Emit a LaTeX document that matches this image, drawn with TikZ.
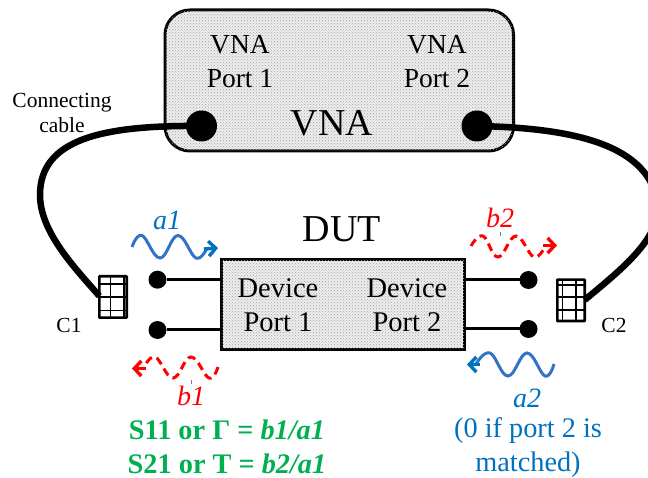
\documentclass[tikz,border=0pt]{standalone}
\usepackage{fontspec}
\setmainfont{Liberation Serif}
\usetikzlibrary{patterns,arrows.meta}
\definecolor{bluewave}{RGB}{50,115,200}
\definecolor{bluetext}{RGB}{0,112,192}
\definecolor{greentext}{RGB}{0,176,80}
\newcommand{\fs}[2]{\fontsize{#1}{#2}\selectfont}
\tikzset{
  x=1pt,y=-1pt,
  panel/.style={draw=black,line width=3pt,fill=gray!14,postaction={pattern=crosshatch dots,pattern color=gray!70}},
  portdot/.style={circle,fill=black,inner sep=0pt,outer sep=0pt,minimum size=#1},
  lead/.style={line width=3pt},
  cable/.style={line width=6.5pt},
  plug/.style={draw=black,line width=2.6pt,fill=white,minimum width=27.4pt,minimum height=41.4pt,inner sep=0pt,outer sep=0pt,rectangle,rounded corners=0.5pt},
  gridline/.style={line width=1.2pt},
  lbl/.style={inner sep=0pt,align=center},
  wave/.style={line width=3pt,smooth,tension=0.7},
  waveblue/.style={wave,draw=bluewave},
  wavered/.style={wave,draw=red,dash pattern=on 8pt off 5pt},
  tipblue/.style={draw=bluetext,line width=3.4pt,-{Straight Barb[length=7pt,width=15pt,line width=3.4pt]}},
  tipred/.style={draw=red,line width=3.4pt,-{Straight Barb[length=7pt,width=15pt,line width=3.4pt]}}
}
\begin{document}
\begin{tikzpicture}
\useasboundingbox (0,0) rectangle (648,478);
\clip (0,0) rectangle (648,478);
% boxes
\draw[panel,rounded corners=25pt] (165,10) rectangle (513.5,151);
\node[panel,rectangle,minimum width=243pt,minimum height=90pt,inner sep=0pt,outer sep=0pt,anchor=north west] (dut) at (221.5,259.5) {};
% VNA ports
\node[portdot=31pt] (vp1) at (201.5,126) {};
\node[portdot=31pt] (vp2) at (477,126) {};
% plugs
\node[plug] (c1) at (113,297) {};
\node[plug] (c2) at (571,300.3) {};
\draw[gridline] (110.7,276) -- (110.7,318) (124,276) -- (124,318)
  (99,284) -- (127,284) (99,297) -- (127,297) (99,310.7) -- (127,310.7);
\draw[gridline] (562.7,279) -- (562.7,321) (576,279) -- (576,321)
  (557,285) -- (585,285) (557,297) -- (585,297) (557,310) -- (585,310);
% cables
\draw[cable] (vp1.center) .. controls (100,125) and (40,140) .. (40,195) .. controls (40,232) and (75,268) .. (c1.west|-0,296);
\draw[cable] (vp2.center) .. controls (575,128) and (650,145) .. (658,205) .. controls (660,240) and (618,272) .. (c2.east|-0,300);
% terminals
\node[portdot=18pt] (t1) at (157.5,279.7) {};
\node[portdot=18pt] (t2) at (157.5,330) {};
\node[portdot=18pt] (t3) at (528.5,280) {};
\node[portdot=18pt] (t4) at (528.5,329) {};
\draw[lead] (t1) -- (t1-|dut.west);
\draw[lead] (t2) -- (t2-|dut.west);
\draw[lead] (t3) -- (t3-|dut.east);
\draw[lead] (t4) -- (t4-|dut.east);
% waves
\draw[waveblue] plot coordinates {(132,247) (142,235.5) (160,258) (178,235.5) (196,258) (207,248)};
\draw[tipblue] (204,249) -- (218,248);
\draw[waveblue] plot coordinates {(554,364) (545,376) (527,353) (508,376) (490,353) (476,364)};
\draw[tipblue] (480,364.5) -- (467,364.5);
\draw[wavered] plot coordinates {(218,367) (209,378) (191,357) (173,378) (155,357) (143,369)};
\draw[tipred] (146,368.5) -- (132,368.5);
\draw[wavered] plot coordinates {(471,246) (483,236) (498,257) (516,236) (534,257) (546,245)};
\draw[tipred] (543,245.5) -- (557,245.5);
\draw[gray,line width=0.8pt] (191,380) -- (191,384);
\draw[gray,line width=0.8pt] (500,232) -- (500,236);
% labels
\node[lbl,font=\fs{27.5}{34}] (l1) at (240,62) {VNA\\Port 1};
\node[lbl,font=\fs{27.5}{34}] (l2) at (437,62) {VNA\\Port 2};
\node[lbl,font=\fs{38}{40}] (l3) at (332,123) {VNA};
\node[lbl,font=\fs{38}{40}] (l4) at (342,229) {DUT};
\node[lbl,font=\fs{21.5}{24.5}] (l5) at (62,113) {Connecting\\cable};
\node[lbl,font=\fs{21.5}{24}] (l6) at (69,325) {C1};
\node[lbl,font=\fs{21.5}{24}] (l7) at (614,325) {C2};
\node[lbl,font=\fs{28.5}{34}] (l8) at (278,305) {Device\\Port 1};
\node[lbl,font=\fs{28.5}{34}] (l9) at (407,305) {Device\\Port 2};
\node[lbl,text=bluetext,font=\fs{28}{30}\itshape] (l10) at (167,220) {a1};
\node[lbl,text=red,font=\fs{28}{30}\itshape] (l11) at (500,218) {b2};
\node[lbl,text=red,font=\fs{28}{30}\itshape] (l12) at (191,396) {b1};
\node[lbl,text=bluetext,font=\fs{28}{30}\itshape] (l13) at (527,398) {a2};
\node[lbl,text=bluetext,font=\fs{28.3}{34}] (l14) at (528,447.5) {(0 if port 2 is\\matched)};
\node[lbl,text=greentext,font=\fs{28.3}{34}\bfseries] (l15) at (227,447) {S11 or Γ = \textit{b1/a1}\\S21 or T = \textit{b2/a1}};
\end{tikzpicture}
\end{document}
